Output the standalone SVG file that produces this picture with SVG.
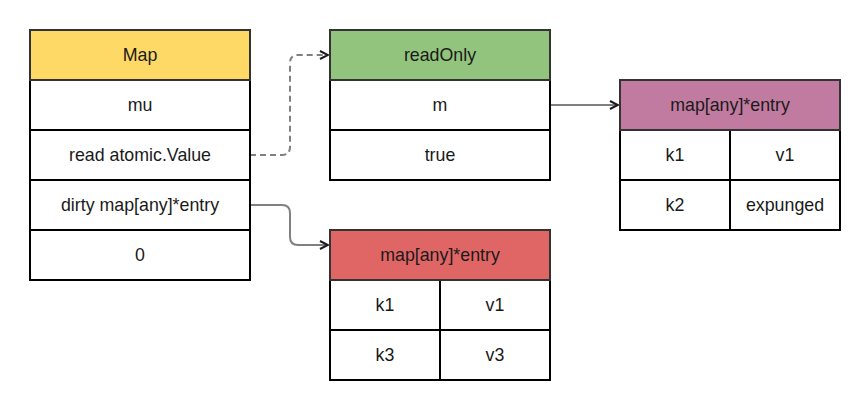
<svg xmlns="http://www.w3.org/2000/svg" width="867" height="400" viewBox="0 0 867 400">
<defs>
<style>
text{font-family:"Liberation Sans",Arial,sans-serif;font-size:17.8px;fill:#1a1a1a;text-anchor:middle;dominant-baseline:central}
.cell{fill:#fff;stroke:#000;stroke-width:2}
.hd{stroke:#333;stroke-width:2}
.conn{fill:none;stroke:#808080;stroke-width:2}
</style>
<marker id="arr" viewBox="0 0 10 10" refX="9" refY="5" markerWidth="10" markerHeight="10" markerUnits="userSpaceOnUse" orient="auto">
<path d="M1,1 L9,5 L1,9" fill="none" stroke="#1a1a1a" stroke-width="2"/>
</marker>
</defs>
<rect width="867" height="400" fill="#fff"/>
<g id="connectors">
<path class="conn" d="M250,155 H282 Q290,155 290,147 V63 Q290,55 298,55 H328" stroke-dasharray="6,4" marker-end="url(#arr)"/>
<path class="conn" d="M250,205 H282 Q290,205 290,213 V237 Q290,245 298,245 H328" marker-end="url(#arr)"/>
<path class="conn" d="M550,105 H618" stroke="#666" marker-end="url(#arr)"/>
</g>
<g id="map">
<rect class="cell" x="30" y="80" width="220" height="50"/>
<rect class="cell" x="30" y="130" width="220" height="50"/>
<rect class="cell" x="30" y="180" width="220" height="50"/>
<rect class="cell" x="30" y="230" width="220" height="50"/>
<rect class="hd" x="30" y="30" width="220" height="50" fill="#FFD966"/>
<text x="140" y="55">Map</text>
<text x="140" y="105">mu</text>
<text x="140" y="155">read atomic.Value</text>
<text x="140" y="205">dirty map[any]*entry</text>
<text x="140" y="255">0</text>
</g>
<g id="readOnly">
<rect class="cell" x="330" y="80" width="220" height="50"/>
<rect class="cell" x="330" y="130" width="220" height="50"/>
<rect class="hd" x="330" y="30" width="220" height="50" fill="#93C47D"/>
<text x="440" y="55">readOnly</text>
<text x="440" y="105">m</text>
<text x="440" y="155">true</text>
</g>
<g id="readMap">
<rect class="cell" x="620" y="130" width="110" height="50"/>
<rect class="cell" x="730" y="130" width="110" height="50"/>
<rect class="cell" x="620" y="180" width="110" height="50"/>
<rect class="cell" x="730" y="180" width="110" height="50"/>
<rect class="hd" x="620" y="80" width="220" height="50" fill="#C27BA0"/>
<text x="730" y="105">map[any]*entry</text>
<text x="675" y="155">k1</text>
<text x="785" y="155">v1</text>
<text x="675" y="205">k2</text>
<text x="785" y="205">expunged</text>
</g>
<g id="dirtyMap">
<rect class="cell" x="330" y="280" width="110" height="50"/>
<rect class="cell" x="440" y="280" width="110" height="50"/>
<rect class="cell" x="330" y="330" width="110" height="50"/>
<rect class="cell" x="440" y="330" width="110" height="50"/>
<rect class="hd" x="330" y="230" width="220" height="50" fill="#E06666"/>
<text x="440" y="255">map[any]*entry</text>
<text x="385" y="305">k1</text>
<text x="495" y="305">v1</text>
<text x="385" y="355">k3</text>
<text x="495" y="355">v3</text>
</g>
</svg>
